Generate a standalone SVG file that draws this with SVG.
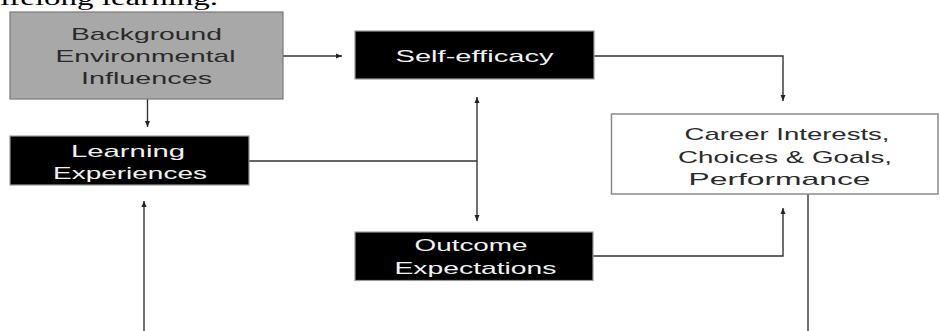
<svg xmlns="http://www.w3.org/2000/svg" width="940" height="331" viewBox="0 0 940 331">
<defs>
<marker id="ah" viewBox="0 0 6 6" refX="6" refY="3" markerWidth="6" markerHeight="6" markerUnits="userSpaceOnUse" orient="auto-start-reverse">
<path d="M0,0.5 L6,3 L0,5.5 Z" fill="#222"/>
</marker>
<style>
.t{font-family:"Liberation Sans",Arial,sans-serif;font-size:17px}
.dk{fill:#2a2a2a}
.wh{fill:#f2f2f2}
.blk{fill:#000;stroke:#9a9a9a;stroke-width:1.2}
.ln{fill:none;stroke:#333;stroke-width:1.4}
</style>
</defs>
<rect width="940" height="331" fill="#fff"/>
<text x="-9" y="5" font-family="'Liberation Serif','Times New Roman',serif" font-size="20" fill="#000" textLength="227" lengthAdjust="spacingAndGlyphs">lifelong learning.</text>
<g id="connectors">
<path class="ln" d="M283 56 H342" marker-end="url(#ah)"/>
<path class="ln" d="M147.5 99 V127" marker-end="url(#ah)"/>
<path class="ln" d="M594 56 H783 V101" marker-end="url(#ah)"/>
<path class="ln" d="M249 161 H477"/>
<path class="ln" d="M477 97 V221" marker-start="url(#ah)" marker-end="url(#ah)"/>
<path class="ln" d="M593 256 H783 V208" marker-end="url(#ah)"/>
<path class="ln" d="M808 194 V331"/>
<path class="ln" d="M144 331 V201" marker-end="url(#ah)"/>
</g>
<g id="background">
<rect x="10" y="12" width="273" height="87" fill="#a8a8a8" stroke="#7a7a7a" stroke-width="1.2"/>
<text class="t dk" x="71" y="39.5" textLength="151" lengthAdjust="spacingAndGlyphs">Background</text>
<text class="t dk" x="55.5" y="62" textLength="180" lengthAdjust="spacingAndGlyphs">Environmental</text>
<text class="t dk" x="81" y="84" textLength="131" lengthAdjust="spacingAndGlyphs">Influences</text>
</g>
<g id="learning">
<rect class="blk" x="10" y="136" width="239" height="49"/>
<text class="t wh" x="71" y="157" textLength="114" lengthAdjust="spacingAndGlyphs">Learning</text>
<text class="t wh" x="53" y="179" textLength="154" lengthAdjust="spacingAndGlyphs">Experiences</text>
</g>
<g id="selfefficacy">
<rect class="blk" x="355" y="31" width="239" height="48"/>
<text class="t wh" x="395.5" y="62" font-size="18" textLength="158" lengthAdjust="spacingAndGlyphs">Self-efficacy</text>
</g>
<g id="outcome">
<rect class="blk" x="355" y="232" width="238" height="48.5"/>
<text class="t wh" x="414.5" y="250.5" textLength="113" lengthAdjust="spacingAndGlyphs">Outcome</text>
<text class="t wh" x="394.5" y="273.5" textLength="162" lengthAdjust="spacingAndGlyphs">Expectations</text>
</g>
<g id="career">
<rect x="611.5" y="114" width="326.5" height="80" fill="#fff" stroke="#8a8a8a" stroke-width="1.5"/>
<text class="t dk" x="684.5" y="140" textLength="205" lengthAdjust="spacingAndGlyphs">Career Interests,</text>
<text class="t dk" x="678" y="163" textLength="214" lengthAdjust="spacingAndGlyphs">Choices &amp; Goals,</text>
<text class="t dk" x="688.5" y="185" textLength="182" lengthAdjust="spacingAndGlyphs">Performance</text>
</g>
</svg>
